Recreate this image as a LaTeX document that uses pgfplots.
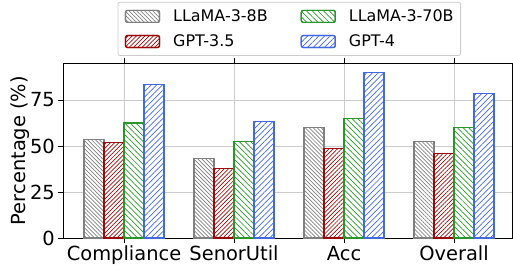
\documentclass[border=0pt]{standalone}
\usepackage{fontspec}
\setmainfont{DejaVu Sans}
\usepackage{pgfplots}
\pgfplotsset{compat=1.18}
\usetikzlibrary{patterns.meta}
\definecolor{cgray}{RGB}{128,128,128}
\definecolor{cred}{RGB}{155,10,10}
\definecolor{cgreen}{RGB}{40,150,40}
\definecolor{cblue}{RGB}{65,105,225}
\definecolor{gridc}{RGB}{204,204,204}
\begin{document}
\begin{tikzpicture}
\path[use as bounding box] (-63bp,-32bp) rectangle (450bp,238bp);
\begin{axis}[
  at={(0,0)}, anchor=south west, scale only axis,
  width=449bp, height=175bp,
  xmin=-0.555, xmax=3.527, ymin=0, ymax=95.1,
  ybar=0pt, bar width=0.182,
  xtick={0,1,2,3}, xticklabels={Compliance,SenorUtil,Acc,Overall},
  ytick={0,25,50,75},
  grid=major, grid style={draw=gridc, line width=0.8bp},
  tick align=outside, major tick length=5bp,
  tick style={black, line width=0.8bp},
  axis line style={line width=0.8bp},
  /pgf/number format/assume math mode=true,
  ticklabel style={font=\fontsize{19.5}{22}\selectfont},
  yticklabel style={inner sep=3bp},
  xticklabel style={inner sep=3bp},
  ylabel={Percentage (\%)},
  every axis y label/.style={at={(axis description cs:-0.095,0.5)}, anchor=center, rotate=90, font=\fontsize{19.5}{22}\selectfont},
  legend columns=2, transpose legend,
  legend image code/.code={\draw[#1] (0bp,-6bp) rectangle (34bp,6bp);},
  legend style={at={(0.504,1.349)}, anchor=north, draw=gridc, line width=0.8bp, rounded corners=2bp,
    fill=white, font=\fontsize{16}{19}\selectfont,
    inner xsep=7bp, inner ysep=7.4bp,
    nodes={inner sep=0pt, anchor=west},
    column sep=13bp, row sep=11.8bp,
    /tikz/every even column/.append style={column sep=33bp}},
]
\addplot[draw=cgray, line width=1.2bp, fill=white, postaction={pattern={Lines[angle=-45,distance=2.8bp,line width=0.7bp]}, pattern color=cgray}]
  coordinates {(0,53.7) (1,43.4) (2,60.0) (3,52.6)};
\addplot[draw=cred, line width=1.2bp, fill=white, postaction={pattern={Lines[angle=45,distance=3bp,line width=0.7bp]}, pattern color=cred}]
  coordinates {(0,51.9) (1,37.7) (2,48.8) (3,45.8)};
\addplot[draw=cgreen, line width=1.2bp, fill=white, postaction={pattern={Lines[angle=-45,distance=4bp,line width=0.7bp]}, pattern color=cgreen}]
  coordinates {(0,62.5) (1,52.6) (2,65.0) (3,60.0)};
\addplot[draw=cblue, line width=1.2bp, fill=white, postaction={pattern={Lines[angle=45,distance=4bp,line width=0.7bp]}, pattern color=cblue}]
  coordinates {(0,83.5) (1,63.2) (2,89.8) (3,78.4)};
\legend{LLaMA-3-8B,GPT-3.5,LLaMA-3-70B,GPT-4}
\end{axis}
\end{tikzpicture}
\end{document}
